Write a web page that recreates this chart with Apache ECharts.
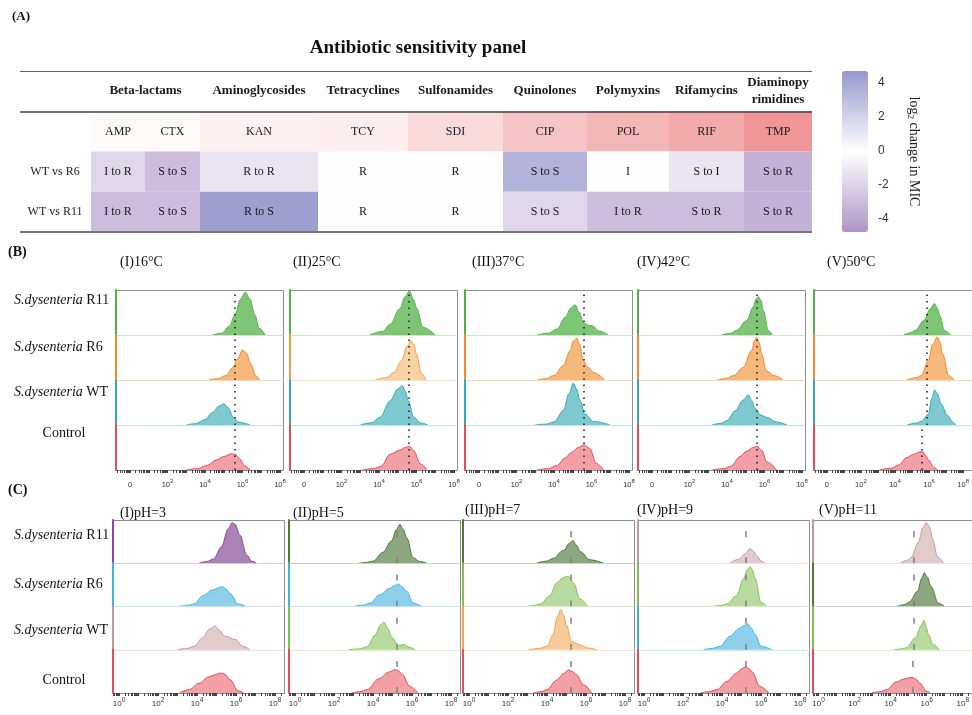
<!DOCTYPE html>
<html><head><meta charset="utf-8">
<script src="https://cdn.jsdelivr.net/npm/echarts@6/dist/echarts.min.js"></script>
<style>html,body{margin:0;padding:0;background:#fff}#c{width:972px;height:715px}</style>
</head><body><div id="c"></div>
<script>
// ================= DATA =================
// Panel A
const drugGroups = ['Beta-lactams','Aminoglycosides','Tetracyclines','Sulfonamides','Quinolones','Polymyxins','Rifamycins','Diaminopy\nrimidines'];
const groupSpans = [[0,1],[2,2],[3,3],[4,4],[5,5],[6,6],[7,7],[8,8]];
const drugs = ['AMP','CTX','KAN','TCY','SDI','CIP','POL','RIF','TMP'];
const drugShade = [0.4,0.4,1.2,1.4,3.0,4.7,5.8,6.8,8.5];
const comparisons = ['WT vs R6','WT vs R11'];
const changeR6  = [-1.9,-3.0,-1.3,0,0,3.4,0,-1.2,-3.5];
const changeR11 = [-3.0,-3.0,4.4,0,0,-1.9,-3.0,-3.0,-3.5];
const callR6  = ['I to R','S to S','R to R','R','R','S to S','I','S to I','S to R'];
const callR11 = ['I to R','S to S','R to S','R','R','S to S','I to R','S to R','S to R'];
const colorbarTicks = [-4,-2,0,2,4];
const colorbarRange = [-4.8,4.7];

// Panels B and C: rows are R11, R6, WT, Control; points are [log10 fluorescence, relative count]
const strains = ['R11','R6','WT','Control'];
const tempTitles = ['(I)16°C','(II)25°C','(III)37°C','(IV)42°C','(V)50°C'];
const phTitles = ['(I)pH=3','(II)pH=5','(III)pH=7','(IV)pH=9','(V)pH=11'];
const tickExpB = [0,2,4,6,8];
const tickExpC = [0,2,4,6,8];
const refLineB = 5.6;
const refLineC = 5.23;
const refShownB = [true,true,true,true,true];
const refShownC = [false,true,true,true,true];

const B16 = [
 [[4.4,0],[4.9,0.04],[5.3,0.2],[5.6,0.45],[5.9,0.8],[6.15,0.95],[6.4,0.8],[6.65,0.45],[6.9,0.15],[7.2,0]],
 [[4.2,0],[4.7,0.03],[5.1,0.1],[5.5,0.28],[5.75,0.48],[6.0,0.67],[6.2,0.6],[6.45,0.35],[6.7,0.1],[6.9,0]],
 [[3.0,0],[3.5,0.03],[4.0,0.12],[4.4,0.28],[4.75,0.42],[5.0,0.47],[5.25,0.38],[5.5,0.17],[5.8,0.06],[6.4,0]],
 [[3.0,0],[3.6,0.03],[4.1,0.1],[4.6,0.22],[5.0,0.3],[5.4,0.36],[5.6,0.35],[5.85,0.25],[6.1,0.1],[6.4,0]]
];
const B25 = [
 [[3.5,0],[4.2,0.08],[4.6,0.24],[5.1,0.58],[5.4,0.85],[5.62,0.98],[5.85,0.78],[6.0,0.6],[6.35,0.17],[7.0,0]],
 [[3.8,0],[4.4,0.05],[4.8,0.17],[5.2,0.43],[5.5,0.75],[5.7,0.87],[5.85,0.8],[6.0,0.58],[6.25,0.15],[6.5,0]],
 [[3.0,0],[3.6,0.05],[4.05,0.17],[4.6,0.54],[5.0,0.8],[5.25,0.87],[5.4,0.75],[5.56,0.54],[5.85,0.17],[6.2,0.05],[6.6,0]],
 [[3.1,0],[3.7,0.03],[4.1,0.08],[4.6,0.35],[5.1,0.44],[5.4,0.5],[5.62,0.53],[5.85,0.43],[6.2,0.14],[6.55,0]]
];
const B37 = [
 [[3.1,0],[3.7,0.04],[4.15,0.13],[4.6,0.39],[4.9,0.6],[5.12,0.67],[5.35,0.5],[5.56,0.28],[5.8,0.22],[6.0,0.21],[6.45,0.08],[6.9,0]],
 [[3.1,0],[3.6,0.03],[4.0,0.1],[4.5,0.32],[4.85,0.65],[5.05,0.88],[5.21,0.93],[5.35,0.8],[5.56,0.43],[5.8,0.28],[6.1,0.17],[6.7,0]],
 [[3.0,0],[3.6,0.02],[4.0,0.07],[4.5,0.32],[4.8,0.7],[5.03,0.93],[5.2,0.8],[5.39,0.54],[5.65,0.24],[6.1,0.08],[7.0,0]],
 [[3.1,0],[3.7,0.03],[4.15,0.1],[4.6,0.27],[4.9,0.38],[5.3,0.5],[5.6,0.56],[5.9,0.48],[6.25,0.15],[6.65,0]]
];
const B42 = [
 [[3.7,0],[4.2,0.04],[4.5,0.1],[5.05,0.32],[5.4,0.62],[5.55,0.8],[5.67,0.85],[5.8,0.78],[5.94,0.54],[6.2,0.1],[6.4,0]],
 [[3.5,0],[4.0,0.04],[4.35,0.1],[4.87,0.28],[5.3,0.65],[5.5,0.9],[5.58,0.95],[5.7,0.85],[5.85,0.58],[6.1,0.2],[6.5,0.1],[7.0,0]],
 [[3.2,0],[3.7,0.04],[4.0,0.1],[4.45,0.32],[4.85,0.55],[5.14,0.67],[5.3,0.55],[5.5,0.36],[5.8,0.22],[6.12,0.17],[6.6,0.07],[7.2,0]],
 [[3.2,0],[3.8,0.03],[4.2,0.08],[4.7,0.3],[5.05,0.42],[5.4,0.5],[5.58,0.53],[5.85,0.44],[6.12,0.18],[6.65,0]]
];
const B50 = [
 [[4.3,0],[4.7,0.05],[4.95,0.1],[5.45,0.32],[5.8,0.58],[6.05,0.7],[6.2,0.6],[6.35,0.43],[6.6,0.1],[6.95,0]],
 [[4.5,0],[5.0,0.05],[5.3,0.1],[5.7,0.43],[5.95,0.8],[6.2,0.96],[6.35,0.85],[6.5,0.58],[6.85,0.1],[7.15,0]],
 [[4.5,0],[5.0,0.04],[5.3,0.08],[5.7,0.24],[5.9,0.6],[6.05,0.78],[6.2,0.7],[6.42,0.47],[6.77,0.21],[7.1,0.06],[7.25,0]],
 [[3.1,0],[3.8,0.04],[4.2,0.11],[4.7,0.28],[5.1,0.35],[5.45,0.4],[5.62,0.41],[5.8,0.32],[5.97,0.22],[6.3,0.05],[6.5,0]]
];
const CpH3 = [
 [[4.1,0],[4.5,0.04],[4.85,0.1],[5.25,0.38],[5.6,0.8],[5.8,0.94],[5.95,0.9],[6.2,0.65],[6.55,0.19],[6.8,0.05],[7.05,0]],
 [[3.0,0],[3.5,0.02],[3.85,0.06],[4.3,0.25],[4.8,0.38],[5.1,0.43],[5.3,0.46],[5.5,0.4],[5.7,0.29],[6.1,0.06],[6.5,0]],
 [[3.0,0],[3.5,0.03],[3.85,0.08],[4.3,0.28],[4.65,0.48],[4.92,0.55],[5.15,0.45],[5.4,0.32],[5.95,0.24],[6.35,0.08],[6.7,0]],
 [[3.1,0],[3.6,0.08],[4.1,0.22],[4.6,0.37],[4.9,0.42],[5.2,0.46],[5.4,0.44],[5.7,0.31],[6.1,0.05],[6.4,0]]
];
const CpH5 = [
 [[3.25,0],[3.7,0.02],[4.0,0.05],[4.5,0.25],[4.95,0.52],[5.2,0.78],[5.38,0.9],[5.55,0.78],[5.73,0.59],[6.05,0.13],[6.4,0.04],[6.75,0]],
 [[3.0,0],[3.5,0.03],[3.85,0.08],[4.35,0.27],[4.85,0.42],[5.1,0.48],[5.3,0.52],[5.5,0.45],[5.73,0.35],[6.05,0.08],[6.5,0]],
 [[2.75,0],[3.3,0.02],[3.7,0.07],[4.1,0.33],[4.4,0.58],[4.56,0.64],[4.75,0.5],[4.95,0.29],[5.3,0.1],[5.6,0.12],[5.85,0.06],[6.15,0]],
 [[2.9,0],[3.3,0.03],[3.7,0.08],[4.3,0.33],[4.85,0.49],[5.13,0.54],[5.3,0.52],[5.47,0.44],[5.9,0.15],[6.3,0]]
];
const CpH7 = [
 [[3.45,0],[4.0,0.05],[4.3,0.11],[4.85,0.3],[5.15,0.46],[5.32,0.53],[5.5,0.42],[5.7,0.27],[6.2,0.08],[6.9,0]],
 [[2.95,0],[3.3,0.02],[3.65,0.06],[4.15,0.25],[4.5,0.55],[4.8,0.66],[5.0,0.7],[5.15,0.68],[5.35,0.55],[5.7,0.17],[6.1,0]],
 [[3.05,0],[3.6,0.03],[4.0,0.08],[4.3,0.34],[4.55,0.78],[4.7,0.93],[4.85,0.8],[5.0,0.57],[5.25,0.19],[5.7,0.11],[6.1,0.04],[6.55,0]],
 [[3.3,0],[3.7,0.03],[4.0,0.08],[4.5,0.3],[4.85,0.45],[5.1,0.53],[5.3,0.5],[5.52,0.42],[5.86,0.19],[6.3,0]]
];
const CpH9 = [
 [[4.4,0],[4.85,0.09],[5.2,0.22],[5.44,0.34],[5.6,0.28],[5.8,0.16],[6.0,0.05],[6.2,0]],
 [[3.45,0],[3.9,0.02],[4.25,0.06],[4.75,0.25],[5.1,0.64],[5.3,0.85],[5.44,0.92],[5.55,0.85],[5.7,0.64],[6.0,0.1],[6.3,0]],
 [[3.05,0],[3.5,0.03],[3.9,0.08],[4.4,0.31],[4.9,0.5],[5.15,0.56],[5.32,0.6],[5.5,0.5],[5.7,0.35],[6.0,0.08],[6.55,0]],
 [[2.9,0],[3.3,0.03],[3.75,0.08],[4.25,0.27],[4.75,0.46],[5.0,0.56],[5.18,0.6],[5.35,0.57],[5.52,0.5],[5.95,0.15],[6.4,0]]
];
const CpH11 = [
 [[4.5,0],[4.9,0.07],[5.1,0.13],[5.5,0.48],[5.75,0.82],[5.95,0.94],[6.1,0.85],[6.3,0.55],[6.55,0.15],[6.9,0]],
 [[4.3,0],[4.7,0.04],[5.0,0.1],[5.45,0.35],[5.7,0.66],[5.83,0.78],[6.0,0.68],[6.2,0.46],[6.6,0.08],[6.95,0]],
 [[4.15,0],[4.6,0.02],[4.85,0.05],[5.35,0.28],[5.65,0.55],[5.81,0.68],[5.95,0.5],[6.05,0.36],[6.3,0.13],[6.65,0]],
 [[2.95,0],[3.4,0.03],[3.8,0.08],[4.3,0.25],[4.7,0.32],[5.0,0.35],[5.2,0.36],[5.4,0.32],[5.6,0.23],[6.0,0.04],[6.2,0]]
];
const colorsB = [
 ['green','orange','teal','red'],
 ['green','orangeL','teal','red'],
 ['green','orange','teal','red'],
 ['green','orange','teal','red'],
 ['green','orange','teal','red']
];
const colorsC = [
 ['purple','blue','rosy','red'],
 ['dgreen','blue','lgreen','red'],
 ['dgreen','lgreen','corange','red'],
 ['rosy','lgreen','blue','red'],
 ['rosy','dgreen','lgreen','red']
];

// ================= STYLE / LAYOUT =================
const SERIF = '"Liberation Serif","DejaVu Serif",serif';
const SANS = '"Liberation Sans","DejaVu Sans",sans-serif';
const FRAME = '#8e8e8e';
const PAL = {
 green:  {line:'#52b049', fill:'#7ec676', base:'#c9e8c4'},
 orange: {line:'#f08a2c', fill:'#f6b77a', base:'#fbd7b3'},
 orangeL:{line:'#f39c45', fill:'#fbd2a5', base:'#fde0c4'},
 teal:   {line:'#36aab4', fill:'#7dc9cf', base:'#bfe4e7'},
 red:    {line:'#e64b57', fill:'#f2a0a6', base:'#f5c0c3'},
 purple: {line:'#8a4b98', fill:'#ab82b8', base:'#dcc9e2'},
 blue:   {line:'#3db3e2', fill:'#8ed0ec', base:'#c6e8f6'},
 rosy:   {line:'#c29a9a', fill:'#e2cbcb', base:'#eee0e0'},
 dgreen: {line:'#4c7a3a', fill:'#8ca77e', base:'#c5d4bd'},
 lgreen: {line:'#80c152', fill:'#b7db9e', base:'#d9edcb'},
 corange:{line:'#f4a04f', fill:'#f9cb9c', base:'#fce3c9'}
};
const TABLE = {left:91, top:71, width:721, height:161, lineLeft:20, colEdges:[0,54,109,227,317,412,496,578,653,721]};
const LB = {lefts:[116,290,465,638,814], top:290, width:167, rowH:45, xmin:-0.75, xmax:8.16, labelMargin:8, labelSize:7.5};
const LC = {lefts:[113,289,463,638,813], top:520, width:171, rowH:43.25, xmin:-0.31, xmax:8.46, labelMargin:4, labelSize:8};

// ================= BUILD =================
const grids = [], xAxes = [], yAxes = [], series = [], graphics = [];

// --- Panel A table (grid 0) ---
grids.push({left:TABLE.left, top:TABLE.top, width:TABLE.width, height:TABLE.height});
xAxes.push({gridIndex:0, type:'value', min:0, max:TABLE.width, show:false});
yAxes.push({gridIndex:0, type:'category', inverse:true, data:['header','drug'].concat(comparisons),
  axisLine:{show:false}, axisTick:{show:false}, splitLine:{show:false},
  axisLabel:{margin:36, align:'center', color:'#222', fontSize:12, fontFamily:SERIF,
    formatter: v => (comparisons.indexOf(v) >= 0 ? v : '')}});

function cellRenderer(getText){
  return function(params, api){
    const c0 = api.value(0), r = api.value(1), c1 = api.value(3);
    const p0 = api.coord([TABLE.colEdges[c0], r]);
    const p1 = api.coord([TABLE.colEdges[c1+1], r]);
    const h = api.size([0,1])[1];
    const children = [];
    if (getText.fill) children.push({type:'rect', shape:{x:p0[0], y:p0[1]-h/2, width:p1[0]-p0[0], height:h}, style:{fill:api.visual('color')}});
    children.push({type:'text', x:(p0[0]+p1[0])/2, y:p0[1], style:{text:getText(params.dataIndex), fill:'#1a1a1a',
      font:(getText.bold?'bold 13px ':'12px ')+SERIF, align:'center', verticalAlign:'middle', textAlign:'center', textVerticalAlign:'middle', lineHeight:17}});
    return {type:'group', children};
  };
}
const headerText = i => drugGroups[i]; headerText.bold = true;
const drugText = i => drugs[i]; drugText.fill = true;
const cmpText = i => (i < drugs.length ? callR6[i] : callR11[i-drugs.length]); cmpText.fill = true;

series.push({type:'custom', xAxisIndex:0, yAxisIndex:0, silent:true, renderItem:cellRenderer(headerText),
  data: groupSpans.map((s,i) => [s[0], 0, 0, s[1]])});
series.push({type:'custom', xAxisIndex:0, yAxisIndex:0, silent:true, renderItem:cellRenderer(drugText),
  data: drugs.map((d,i) => [i, 1, drugShade[i], i])});
series.push({type:'custom', xAxisIndex:0, yAxisIndex:0, silent:true, renderItem:cellRenderer(cmpText),
  data: changeR6.map((v,i) => [i, 2, v, i]).concat(changeR11.map((v,i) => [i, 3, v, i]))});

// --- colorbar axis (grid 1) ---
grids.push({left:842, top:71, width:26, height:161});
xAxes.push({gridIndex:1, type:'value', show:false});
yAxes.push({gridIndex:1, type:'value', position:'right', min:colorbarRange[0], max:colorbarRange[1],
  axisLine:{show:false}, axisTick:{show:false}, splitLine:{show:false},
  axisLabel:{customValues:colorbarTicks, margin:10, color:'#333', fontSize:12, fontFamily:SANS},
  name:'{t|log}{u|2}{t| change in MIC}', nameLocation:'middle', nameRotate:-90, nameGap:38,
  nameTextStyle:{rich:{t:{fontSize:14, fontFamily:SERIF, color:'#222', lineHeight:16},
                       u:{fontSize:9, fontFamily:SERIF, color:'#222', verticalAlign:'bottom'}}}});

// --- histogram panels ---
function minorTicks(lo, hi){
  const t = [];
  for (let n = -1; n <= 8; n++) for (let k = 1; k < 10; k++) { const v = n + Math.log10(k); if (v >= lo && v <= hi) t.push(v); }
  return t;
}
function richLab(size){
  return {
    b:{fontSize:size, fontFamily:SANS, color:'#333', lineHeight:11, verticalAlign:'bottom'},
    s:{fontSize:size-1.5, fontFamily:SANS, color:'#333', verticalAlign:'top'}
  };
}
function buildPanel(P, boxes, colorSets, tickExp, zeroAsPlain, refLine, refShown, refStyle){
  boxes.forEach((curves, b) => {
    graphics.push({type:'rect', z:0, shape:{x:P.lefts[b]+0.5, y:P.top+0.5, width:P.width, height:P.rowH*curves.length}, style:{fill:'none', stroke:FRAME, lineWidth:1}});
    curves.forEach((pts, r) => {
      const gi = grids.length;
      const pal = PAL[colorSets[b][r]];
      const bottom = r === curves.length - 1;
      grids.push({left:P.lefts[b], top:P.top + r*P.rowH, width:P.width, height:P.rowH});
      xAxes.push({gridIndex:gi, type:'value', min:P.xmin, max:P.xmax, splitLine:{show:false}, z:3,
        axisLine:{show:true, lineStyle:{color: bottom ? FRAME : pal.base, width:1}},
        axisTick: bottom ? {show:true, inside:false, length:3, customValues:minorTicks(P.xmin, P.xmax), lineStyle:{color:'#444', width:1}} : {show:false},
        axisLabel: bottom ? {show:true, customValues:tickExp, margin:P.labelMargin, rich:richLab(P.labelSize),
          formatter: v => (zeroAsPlain && v === 0) ? '{b|0}' : '{b|10}{s|' + v + '}'} : {show:false}});
      yAxes.push({gridIndex:gi, type:'value', min:0, max:1, z:5, splitLine:{show:false}, axisTick:{show:false}, axisLabel:{show:false},
        axisLine:{show:true, onZero:false, lineStyle:{color:pal.line, width:2}}});
      const s = {type:'line', name:strains[r], xAxisIndex:gi, yAxisIndex:gi, data:pts, smooth:0.35, smoothMonotone:'x',
        symbol:'none', silent:true, z:2, lineStyle:{color:pal.line, width:1}, areaStyle:{color:pal.fill, opacity:1}};
      if (refShown[b]) s.markLine = {silent:true, symbol:'none', label:{show:false}, animation:false, lineStyle:refStyle, data:[{xAxis:refLine}]};
      series.push(s);
    });
  });
}
buildPanel(LB, [B16,B25,B37,B42,B50], colorsB, tickExpB, true, refLineB, refShownB, {type:[1.5,5], color:'#222', width:1.6});
buildPanel(LC, [CpH3,CpH5,CpH7,CpH9,CpH11], colorsC, tickExpC, false, refLineC, refShownC, {type:[6,20], color:'#808080', width:1.5});

// --- texts & rules ---
function txt(x, y, text, size, opt){
  opt = opt || {};
  return {type:'text', x, y, z:10, style:{text, fill:'#111', font:(opt.bold?'bold ':'') + size + 'px ' + SERIF,
    align:opt.align||'left', verticalAlign:'middle', textAlign:opt.align||'left', textVerticalAlign:'middle'}};
}
graphics.push(txt(12, 17, '(A)', 13, {bold:true}));
graphics.push(txt(418, 48, 'Antibiotic sensitivity panel', 19, {bold:true, align:'center'}));
graphics.push(txt(8, 252, '(B)', 14, {bold:true}));
graphics.push(txt(8, 490, '(C)', 14, {bold:true}));
[[71.5,'#666',1],[112,'#444',1.6],[232,'#777',2]].forEach(l => graphics.push({type:'line', z:10,
  shape:{x1:TABLE.lineLeft, y1:l[0], x2:TABLE.left+TABLE.width, y2:l[0]}, style:{stroke:l[1], lineWidth:l[2]}}));
const titleXB = [120,293,472,637,827], titleXC = [120,293,465,637,819];
tempTitles.forEach((t,i) => graphics.push(txt(titleXB[i], 262, t, 14)));
phTitles.forEach((t,i) => graphics.push(txt(titleXC[i], i < 2 ? 513 : 510, t, 14)));
function strainLabel(y, s){
  if (s === 'Control') return txt(64, y, 'Control', 14, {align:'center'});
  return {type:'text', x:14, y, z:10, style:{text:'{i|S.dysenteria}{n| ' + s + '}', fill:'#111',
    align:'left', verticalAlign:'middle', textAlign:'left', textVerticalAlign:'middle',
    rich:{i:{fontStyle:'italic', fontSize:14, fontFamily:SERIF, fill:'#111', color:'#111'}, n:{fontSize:14, fontFamily:SERIF, fill:'#111', color:'#111'}}}};
}
const labelYB = [300,347,392,433], labelYC = [535,584,630,680];
strains.forEach((s,i) => { graphics.push(strainLabel(labelYB[i], s)); graphics.push(strainLabel(labelYC[i], s)); });

const option = {
  animation:false,
  backgroundColor:'#fff',
  grid:grids, xAxis:xAxes, yAxis:yAxes, series,
  visualMap:[
    {type:'continuous', seriesIndex:2, dimension:2, min:colorbarRange[0], max:colorbarRange[1], calculable:false, hoverLink:false,
     left:842, top:71, itemWidth:26, itemHeight:161, padding:0, text:null, orient:'vertical',
     inRange:{color:['#ae95c6','#ffffff','#9797ce']}},
    {type:'continuous', seriesIndex:1, dimension:2, min:0, max:10, show:false, inRange:{color:['#ffffff','#ec8285']}}
  ],
  graphic:{elements:graphics}
};
const chart = echarts.init(document.getElementById('c'), null, {renderer:'canvas'});
chart.setOption(option);
</script></body></html>
